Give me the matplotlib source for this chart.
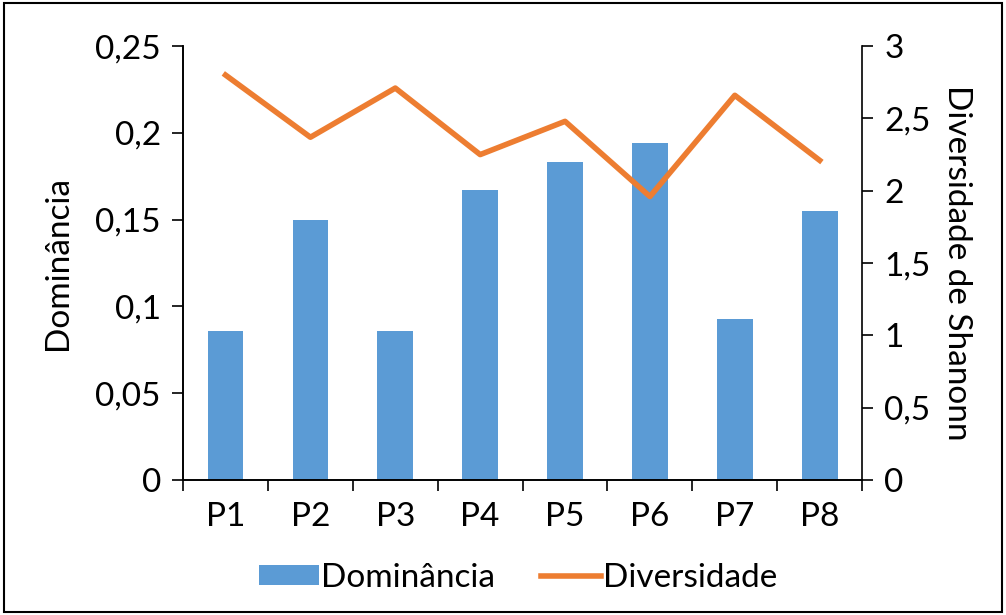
import matplotlib.pyplot as plt
import numpy as np
from matplotlib.patches import Rectangle

# -----------------------
# Data
# -----------------------

pontos = ["P1", "P2", "P3", "P4", "P5", "P6", "P7", "P8"]
dominancia = [0.086, 0.150, 0.086, 0.167, 0.183, 0.194, 0.093, 0.155]
diversidade = [2.80, 2.37, 2.71, 2.25, 2.48, 1.96, 2.66, 2.21]

left_ticks = [0, 0.05, 0.1, 0.15, 0.2, 0.25]
left_labels = ["0", "0,05", "0,1", "0,15", "0,2", "0,25"]
right_ticks = [0, 0.5, 1, 1.5, 2, 2.5, 3]
right_labels = ["0", "0,5", "1", "1,5", "2", "2,5", "3"]

blue = "#5b9bd5"
orange = "#ed7d31"
fs = 24

plt.rcParams["font.family"] = ["Lato", "DejaVu Sans"]

fig = plt.figure(figsize=(10.06, 6.15), dpi=100)
ax = fig.add_axes([0.182, 0.2195, 0.675, 0.7055])
ax2 = ax.twinx()

x = np.arange(len(pontos))
ax.bar(x, dominancia, width=0.42, color=blue, label="Dominância", zorder=2)
ax2.plot(x, diversidade, color=orange, lw=4, label="Diversidade", zorder=3)

ax.set_xlim(-0.5, len(pontos) - 0.5)
ax.set_ylim(0, 0.25)
ax2.set_ylim(0, 3)

ax.set_yticks(left_ticks)
ax.set_yticklabels(left_labels)
ax2.set_yticks(right_ticks)
ax2.set_yticklabels(right_labels)

ax.set_xticks(x)
ax.set_xticklabels(pontos)
ax.set_xticks(np.arange(-0.5, len(pontos)), minor=True)
ax.tick_params(axis="x", which="major", length=0, pad=16, labelsize=fs)
ax.tick_params(axis="x", which="minor", length=8, width=1.2, direction="out")
ax.tick_params(axis="y", length=8, width=1.2, pad=8, labelsize=fs)
ax2.tick_params(axis="y", length=8, width=1.2, pad=8, labelsize=fs)

for a in (ax, ax2):
    a.spines["top"].set_visible(False)
    for s in ("left", "right", "bottom"):
        a.spines[s].set_linewidth(1.2)
ax.spines["right"].set_visible(False)

ax.set_ylabel("Dominância", fontsize=fs, labelpad=16)
ax2.set_ylabel("Diversidade de Shanonn", fontsize=fs, rotation=-90, labelpad=30)
ax2.set_zorder(ax.get_zorder() + 1)
ax2.patch.set_visible(False)

h1, l1 = ax.get_legend_handles_labels()
h2, l2 = ax2.get_legend_handles_labels()
fig.legend(h1 + h2, l1 + l2, loc="center", bbox_to_anchor=(0.515, 0.06), ncol=2,
           frameon=False, fontsize=fs, handlelength=1.8, handleheight=0.55,
           handletextpad=0.05, columnspacing=1.4)

fig.patches.append(Rectangle((0.004, 0.005), 0.992, 0.99, transform=fig.transFigure,
                             fill=False, edgecolor="black", lw=1.5))

fig.savefig("out.png", dpi=100)
